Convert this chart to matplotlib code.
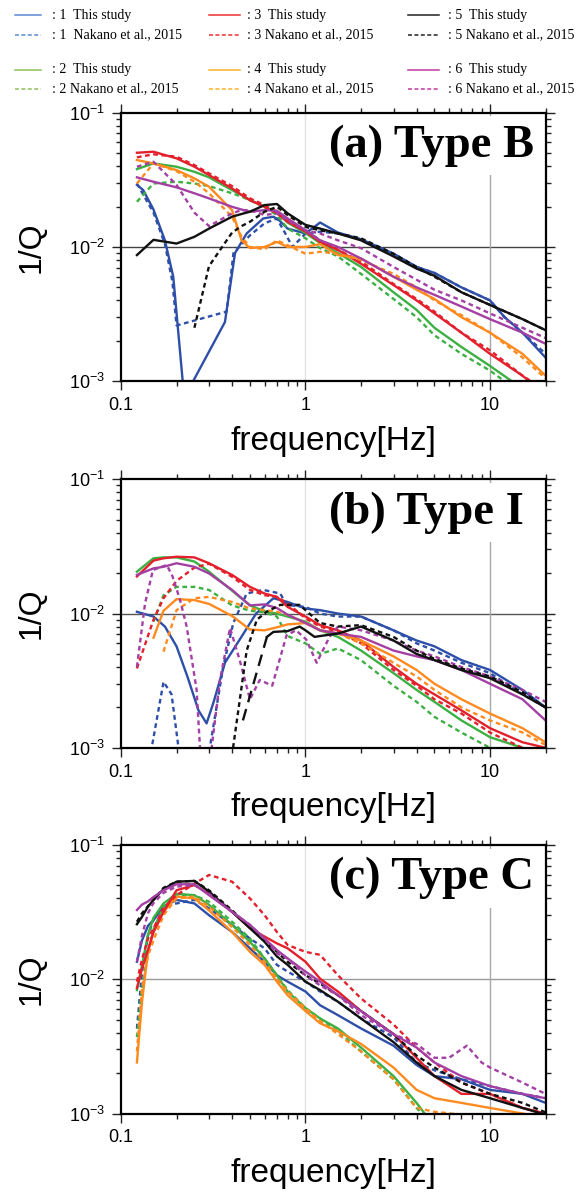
import numpy as np
import matplotlib
matplotlib.use('Agg')
import matplotlib.pyplot as plt
from matplotlib.lines import Line2D
from matplotlib.ticker import LogLocator, NullFormatter, FixedFormatter, FixedLocator

plt.rcParams['font.family'] = ['Liberation Sans', 'DejaVu Sans']
plt.rcParams['mathtext.fontset'] = 'custom'
plt.rcParams['mathtext.rm'] = 'Liberation Sans'

nan = float('nan')

# ---------------- panel (a) Type B ----------------
fa = [0.122, 0.15, 0.2, 0.25, 0.3, 0.4, 0.45, 0.5, 0.6, 0.7, 0.8, 1.0, 1.2, 1.5, 2, 3, 4, 5, 7, 10, 15, 20]
a2_this = [0.038, 0.0419, 0.0396, 0.0363, 0.033, 0.0265, 0.0244, 0.0223, 0.0201, 0.018, 0.0152, 0.0127, 0.0107, 0.009, 0.0071, 0.0046, 0.0034, 0.0025, 0.0018, 0.0013, 0.00088, 0.0007]
a2_nak = [0.0217, 0.0297, 0.0306, 0.0297, 0.0284, 0.0251, 0.0237, 0.0223, 0.0197, 0.0173, 0.0137, 0.0116, 0.0098, 0.0085, 0.0063, 0.0041, 0.0030, 0.0022, 0.0016, 0.0012, 0.0008, 0.0006]
a3_this = [0.0503, 0.0512, 0.0457, 0.0396, 0.0343, 0.0273, 0.0244, 0.0223, 0.0199, 0.0178, 0.0154, 0.013, 0.0109, 0.0095, 0.0075, 0.0052, 0.004, 0.0032, 0.0023, 0.0016, 0.0011, 0.0008]
a3_nak = [0.0465, 0.049, 0.047, 0.0407, 0.0353, 0.0284, 0.0254, 0.023, 0.0205, 0.0183, 0.016, 0.0133, 0.0112, 0.0095, 0.0078, 0.0053, 0.0041, 0.0033, 0.0023, 0.0017, 0.0011, 0.00085]
a4_this = [0.0444, 0.0419, 0.0374, 0.0324, 0.0281, 0.0188, 0.0112, 0.0098, 0.01, 0.0109, 0.01, 0.01, 0.0105, 0.0087, 0.0082, 0.006, 0.0048, 0.0041, 0.003, 0.0023, 0.0016, 0.0011]
a4_nak = [0.0297, 0.0419, 0.0367, 0.0306, 0.0251, 0.0168, 0.0119, 0.01, 0.0096, 0.0112, 0.0103, 0.0089, 0.0092, 0.0089, 0.008, 0.0063, 0.005, 0.004, 0.0031, 0.0023, 0.0015, 0.00105]
a5_this = [0.0087, 0.0113, 0.0106, 0.0119, 0.0137, 0.0168, 0.0176, 0.0183, 0.0205, 0.0209, 0.0178, 0.0146, 0.0137, 0.0126, 0.0112, 0.0085, 0.0069, 0.0061, 0.0046, 0.0037, 0.0029, 0.0024]
a5_nak = [nan, nan, nan, 0.0025, 0.0072, 0.0128, 0.0143, 0.0154, 0.0183, 0.0199, 0.0173, 0.0141, 0.0133, 0.0126, 0.0116, 0.0089, 0.0071, 0.006, 0.0046, 0.0037, 0.0029, 0.0024]
a6_this = [0.033, 0.0306, 0.0278, 0.0251, 0.023, 0.0199, 0.019, 0.0183, 0.0188, 0.0186, 0.0163, 0.0133, 0.0112, 0.01, 0.0082, 0.006, 0.005, 0.0044, 0.0036, 0.0029, 0.0023, 0.0019]
a6_nak = [0.0396, 0.0431, 0.029, 0.018, 0.0143, 0.0178, 0.0188, 0.0188, 0.0173, 0.0178, 0.0158, 0.0133, 0.0126, 0.0112, 0.0098, 0.0071, 0.0057, 0.0048, 0.004, 0.0032, 0.0025, 0.0021]
a1_this_f = [0.122, 0.132, 0.15, 0.173, 0.192, 0.216, 0.23, 0.246, 0.366, 0.415, 0.48, 0.59, 0.67, 0.72, 0.8, 1.0, 1.2, 1.5, 2, 3, 4, 5, 7, 10, 12, 15, 20]
a1_this = [0.029, 0.0265, 0.019, 0.0112, 0.006, 0.001, 0.0006, 0.001, 0.00276, 0.009, 0.0126, 0.0163, 0.0168, 0.0158, 0.0137, 0.0126, 0.0152, 0.0128, 0.0114, 0.0089, 0.0071, 0.0064, 0.005, 0.004, 0.003, 0.0023, 0.0015]
a1_nak_f = [0.122, 0.15, 0.173, 0.19, 0.2, 0.374, 0.407, 0.5, 0.6, 0.7, 0.78, 0.85, 1.0, 1.2, 1.5, 2, 3, 4, 5, 7, 10, 12, 15, 20]
a1_nak = [0.0297, 0.018, 0.0105, 0.0055, 0.0026, 0.0033, 0.009, 0.0122, 0.015, 0.0163, 0.0125, 0.01, 0.0126, 0.013, 0.0126, 0.0114, 0.0089, 0.0071, 0.0064, 0.005, 0.004, 0.003, 0.0023, 0.0016]

# ---------------- panel (b) Type I ----------------
fb = [0.122, 0.15, 0.17, 0.2, 0.25, 0.3, 0.4, 0.5, 0.6, 0.7, 0.8, 1.0, 1.2, 1.5, 2, 3, 4, 5, 7, 10, 15, 20]
b2_this = [0.0205, 0.0258, 0.0262, 0.0262, 0.0244, 0.0205, 0.0148, 0.0115, 0.0104, 0.01, 0.0095, 0.0087, 0.0075, 0.0067, 0.0053, 0.0036, 0.0027, 0.0022, 0.0016, 0.0012, 0.001, 0.0009]
b2_nak = [nan, 0.0087, 0.0137, 0.0158, 0.0158, 0.015, 0.0115, 0.0105, 0.0102, 0.0095, 0.0068, 0.006, 0.005, 0.0055, 0.0045, 0.0029, 0.0022, 0.0017, 0.0013, 0.001, 0.0008, 0.0007]
b3_this = [0.0189, 0.0248, 0.0258, 0.0265, 0.0262, 0.0237, 0.0194, 0.0158, 0.0141, 0.0133, 0.0112, 0.0095, 0.0082, 0.0075, 0.0063, 0.004, 0.003, 0.0025, 0.0019, 0.0014, 0.0011, 0.001]
b3_nak = [0.0039, 0.009, 0.013, 0.0175, 0.022, 0.0235, 0.0188, 0.015, 0.0137, 0.0133, 0.0119, 0.0092, 0.008, 0.0073, 0.006, 0.0038, 0.0029, 0.0023, 0.0018, 0.0013, 0.001, 0.0009]
b4_this = [nan, 0.0066, 0.0105, 0.0128, 0.0126, 0.0118, 0.0096, 0.0076, 0.0075, 0.0079, 0.0083, 0.0085, 0.0075, 0.0071, 0.0063, 0.0048, 0.0038, 0.003, 0.0023, 0.0018, 0.0014, 0.0011]
b4_nak = [nan, nan, 0.0052, 0.0106, 0.013, 0.0133, 0.0122, 0.0109, 0.0106, 0.0103, 0.0098, 0.0085, 0.0075, 0.0071, 0.006, 0.0043, 0.0034, 0.0027, 0.002, 0.0016, 0.0013, 0.00105]
b6_this = [0.0194, 0.0217, 0.0223, 0.0237, 0.0223, 0.0199, 0.015, 0.0115, 0.0117, 0.011, 0.0098, 0.0085, 0.0075, 0.0071, 0.0067, 0.0053, 0.0048, 0.0045, 0.0038, 0.003, 0.0023, 0.0016]
b6_nak_f = [0.122, 0.135, 0.149, 0.177, 0.19, 0.209, 0.227, 0.257, 0.268, 0.29, 0.31, 0.344, 0.39, 0.44, 0.5, 0.565, 0.66, 0.79, 0.89, 1.01, 1.15, 1.35, 1.5, 2, 3, 4, 5, 7, 10, 15, 20]
b6_nak = [0.004, 0.0119, 0.0211, 0.023, 0.019, 0.0126, 0.008, 0.0027, 0.001, 0.0005, 0.001, 0.0032, 0.0078, 0.0045, 0.0023, 0.0032, 0.0029, 0.0069, 0.0075, 0.0064, 0.0043, 0.0067, 0.008, 0.0075, 0.0063, 0.0053, 0.0048, 0.004, 0.0034, 0.0027, 0.0022]
b1_this_f = [0.122, 0.15, 0.173, 0.2, 0.229, 0.263, 0.291, 0.318, 0.366, 0.44, 0.54, 0.67, 0.8, 1.0, 1.2, 1.5, 2, 3, 4, 5, 7, 10, 15, 20]
b1_this = [0.0103, 0.0095, 0.008, 0.0057, 0.0034, 0.0019, 0.00152, 0.0022, 0.0043, 0.0064, 0.01, 0.013, 0.0122, 0.0109, 0.0106, 0.01, 0.0095, 0.0075, 0.0063, 0.0057, 0.0045, 0.0038, 0.0027, 0.002]
b1_nak_f = [0.14, 0.17, 0.188, 0.205, 0.25, 0.303, 0.358, 0.406, 0.48, 0.59, 0.73, 0.79, 1.0, 1.2, 1.5, 2, 3, 4, 5, 7, 10, 15, 20]
b1_nak = [0.0007, 0.0031, 0.0025, 0.001, 0.0005, 0.001, 0.004, 0.0085, 0.0141, 0.015, 0.0141, 0.0116, 0.0112, 0.01, 0.0095, 0.0095, 0.0075, 0.006, 0.0053, 0.0043, 0.0036, 0.0025, 0.002]
b5_this_f = [0.458, 0.618, 0.67, 0.8, 0.93, 1.0, 1.12, 1.2, 1.5, 2, 3, 4, 5, 7, 10, 15, 20]
b5_this = [0.0016, 0.0067, 0.0073, 0.0074, 0.008, 0.0075, 0.0067, 0.0068, 0.0071, 0.008, 0.0063, 0.005, 0.0045, 0.0038, 0.0033, 0.0025, 0.002]
b5_nak_f = [0.405, 0.48, 0.545, 0.616, 0.73, 0.93, 1.0, 1.2, 1.5, 2, 3, 4, 5, 7, 10, 15, 20]
b5_nak = [0.001, 0.0053, 0.009, 0.0103, 0.0116, 0.0116, 0.0106, 0.0085, 0.008, 0.0082, 0.0067, 0.0053, 0.0046, 0.0039, 0.0034, 0.0026, 0.002]

# ---------------- panel (c) Type C ----------------
fc = [0.122, 0.13, 0.14, 0.15, 0.17, 0.2, 0.25, 0.3, 0.4, 0.5, 0.6, 0.7, 0.8, 1.0, 1.2, 1.5, 2, 3, 4, 5, 7, 10, 15, 20]
c1_this = [0.0135, 0.0195, 0.025, 0.0276, 0.0347, 0.039, 0.0367, 0.03, 0.0225, 0.017, 0.0135, 0.0107, 0.0096, 0.0081, 0.0064, 0.0054, 0.0043, 0.0032, 0.0023, 0.0019, 0.0018, 0.0015, 0.0014, 0.0012]
c1_nak = [0.0043, 0.0113, 0.0211, 0.0278, 0.0363, 0.0367, 0.039, 0.0337, 0.0254, 0.0201, 0.017, 0.0128, 0.0114, 0.0096, 0.0081, 0.0068, 0.0051, 0.0037, 0.0024, 0.0021, 0.0018, 0.0016, 0.0014, 0.0013]
c2_this = [0.0083, 0.0127, 0.0215, 0.0287, 0.0367, 0.0433, 0.0423, 0.0358, 0.0254, 0.019, 0.0143, 0.0107, 0.0081, 0.0061, 0.0051, 0.0043, 0.0031, 0.0019, 0.0012, 0.0008, nan, nan, nan, nan]
c2_nak = [0.0037, 0.0085, 0.016, 0.0235, 0.035, 0.0423, 0.0423, 0.0378, 0.0268, 0.0201, 0.0143, 0.0107, 0.0083, 0.0061, 0.0051, 0.0041, 0.0029, 0.0018, 0.0011, 0.0008, nan, nan, nan, nan]
c3_this = [0.0086, 0.012, 0.0165, 0.0225, 0.0318, 0.046, 0.0503, 0.0433, 0.0318, 0.024, 0.0208, 0.0185, 0.017, 0.0135, 0.0101, 0.0081, 0.0058, 0.0039, 0.0026, 0.0019, 0.0014, 0.0014, 0.0011, 0.001]
c3_nak = [0.0096, 0.0141, 0.02, 0.024, 0.034, 0.0423, 0.0515, 0.0598, 0.0533, 0.04, 0.03, 0.0225, 0.018, 0.016, 0.0152, 0.0107, 0.0072, 0.0046, 0.0031, 0.0024, 0.0017, 0.0014, 0.0011, 0.001]
c4_this = [0.0024, 0.0068, 0.016, 0.0225, 0.0318, 0.0413, 0.04, 0.0326, 0.0225, 0.016, 0.0128, 0.0096, 0.0076, 0.0058, 0.0047, 0.0041, 0.0033, 0.0022, 0.0015, 0.0013, 0.0012, 0.0011, 0.001, 0.00093]
c4_nak = [0.0029, 0.0085, 0.015, 0.0195, 0.03, 0.04, 0.0413, 0.0347, 0.0245, 0.018, 0.0135, 0.0101, 0.0081, 0.0061, 0.0049, 0.0039, 0.0029, 0.0018, 0.0011, 0.00103, 0.00098, 0.0009, nan, nan]
c5_this = [0.0257, 0.0292, 0.0347, 0.039, 0.047, 0.0533, 0.054, 0.045, 0.0318, 0.024, 0.019, 0.0148, 0.0128, 0.0096, 0.0083, 0.0068, 0.0051, 0.0034, 0.0024, 0.0019, 0.0015, 0.0013, 0.0011, 0.00098]
c5_nak = [0.0268, 0.031, 0.035, 0.039, 0.048, 0.0533, 0.054, 0.046, 0.0326, 0.0245, 0.0195, 0.016, 0.0135, 0.0107, 0.0093, 0.0076, 0.0058, 0.0039, 0.0027, 0.0022, 0.0017, 0.0014, 0.0012, 0.00102]
c6_this = [0.0328, 0.036, 0.038, 0.041, 0.046, 0.051, 0.051, 0.0423, 0.0318, 0.0254, 0.0201, 0.0165, 0.0143, 0.0114, 0.0096, 0.0076, 0.0058, 0.0039, 0.0031, 0.0024, 0.0019, 0.0016, 0.0014, 0.0013]
c6_nak_f = [0.122, 0.13, 0.14, 0.15, 0.17, 0.2, 0.25, 0.3, 0.4, 0.5, 0.6, 0.7, 0.8, 1.0, 1.2, 1.5, 2, 3, 4, 5, 6, 7.5, 9, 10, 15, 20]
c6_nak = [0.0135, 0.0212, 0.031, 0.037, 0.044, 0.049, 0.0503, 0.0433, 0.0318, 0.0254, 0.0201, 0.0156, 0.0143, 0.0107, 0.009, 0.0076, 0.0054, 0.0039, 0.0033, 0.0026, 0.0026, 0.0032, 0.0024, 0.0022, 0.0017, 0.0014]

# colours (curves / legend)
line_colors = ['#2e4fa8', '#3cb043', '#e3202b', '#ff8a1f', '#111111', '#a43fa4']
legend_colors = ['#5a8ad2', '#8ebf55', '#ee2f2f', '#f8b12a', '#222222', '#c2389e']
DASH = (0, (2.0, 1.5))
LW = 1.7

W, H = 586, 1197
fig = plt.figure(figsize=(W / 100, H / 100), dpi=100)


def new_axes(top_px):
    left, right, bottom = 121, 545.5, top_px + 268.5
    return fig.add_axes([left / W, 1 - bottom / H, (right - left) / W, 268.5 / H])


def curve(ax, f, q, st, dashed):
    ax.plot(f, q, color=line_colors[st - 1], lw=LW,
            ls=DASH if dashed else '-', zorder=2, solid_joinstyle='round')


def style(ax, title, hcol):
    ax.set_xscale('log')
    ax.set_yscale('log')
    ax.set_xlim(0.1, 20)
    ax.set_ylim(1e-3, 1e-1)
    ax.xaxis.set_major_locator(FixedLocator([0.1, 1, 10]))
    ax.xaxis.set_major_formatter(FixedFormatter(['0.1', '1', '10']))
    ax.xaxis.set_minor_locator(LogLocator(base=10, subs=np.arange(2, 10)))
    ax.xaxis.set_minor_formatter(NullFormatter())
    ax.yaxis.set_major_locator(FixedLocator([1e-3, 1e-2, 1e-1]))
    ax.yaxis.set_minor_locator(LogLocator(base=10, subs=np.arange(2, 10)))
    ax.yaxis.set_minor_formatter(NullFormatter())
    ax.tick_params(which='both', direction='out', top=True, right=True,
                   width=1.0, labelsize=13, pad=5, color='#222222')
    ax.tick_params(which='major', length=6.5)
    ax.tick_params(which='minor', length=3.5)
    for s in ax.spines.values():
        s.set_linewidth(1.6)
    ax.axhline(1e-2, color=hcol, lw=1.0, zorder=1)
    ax.axvline(1, color='#e2e2e2', lw=1.0, zorder=1)
    ax.axvline(10, color='#a8a8a8', lw=1.0, zorder=1)
    ax.set_xlabel('frequency[Hz]', fontsize=24)
    ax.set_ylabel('1/Q', fontsize=23)
    ax.xaxis.set_label_coords(0.5, -0.165)
    ax.yaxis.set_label_coords(-0.175, 0.5)
    ax.text(0.49, 0.835, title, transform=ax.transAxes, ha='left', va='baseline',
            fontsize=33.5, fontweight='bold', family='Liberation Serif', zorder=2.4,
            bbox=dict(facecolor='white', edgecolor='none', pad=6))


# panel (a)
ax = new_axes(112.7)
curve(ax, a1_this_f, a1_this, 1, False)
curve(ax, a1_nak_f, a1_nak, 1, True)
curve(ax, fa, a2_this, 2, False)
curve(ax, fa, a2_nak, 2, True)
curve(ax, fa, a3_this, 3, False)
curve(ax, fa, a3_nak, 3, True)
curve(ax, fa, a4_this, 4, False)
curve(ax, fa, a4_nak, 4, True)
curve(ax, fa, a6_this, 6, False)
curve(ax, fa, a6_nak, 6, True)
curve(ax, fa, a5_this, 5, False)
curve(ax, fa, a5_nak, 5, True)
style(ax, '(a) Type B', '#444444')

# panel (b)
ax = new_axes(479.3)
curve(ax, b1_this_f, b1_this, 1, False)
curve(ax, b1_nak_f, b1_nak, 1, True)
curve(ax, fb, b2_this, 2, False)
curve(ax, fb, b2_nak, 2, True)
curve(ax, fb, b3_this, 3, False)
curve(ax, fb, b3_nak, 3, True)
curve(ax, fb, b4_this, 4, False)
curve(ax, fb, b4_nak, 4, True)
curve(ax, fb, b6_this, 6, False)
curve(ax, b6_nak_f, b6_nak, 6, True)
# first part of the station-5 curve is drawn broken in the original
ax.plot(b5_this_f[:2], b5_this[:2], color=line_colors[4], lw=LW, ls=(0, (5, 3)), zorder=2)
curve(ax, b5_this_f[1:], b5_this[1:], 5, False)
curve(ax, b5_nak_f, b5_nak, 5, True)
style(ax, '(b) Type I', '#555555')

# panel (c)
ax = new_axes(845)
curve(ax, fc, c1_this, 1, False)
curve(ax, fc, c1_nak, 1, True)
curve(ax, fc, c2_this, 2, False)
curve(ax, fc, c2_nak, 2, True)
curve(ax, fc, c4_this, 4, False)
curve(ax, fc, c4_nak, 4, True)
curve(ax, fc, c3_this, 3, False)
curve(ax, fc, c3_nak, 3, True)
curve(ax, fc, c5_this, 5, False)
curve(ax, fc, c5_nak, 5, True)
curve(ax, fc, c6_this, 6, False)
curve(ax, c6_nak_f, c6_nak, 6, True)
style(ax, '(c) Type C', '#999999')

# legend block on top (drawn by hand, like the original)
col_x = [(15, 41, 52), (209, 240, 247), (408, 439, 448)]
row_y = [(15, 35), (70, 89)]
stations = [[1, 2], [3, 4], [5, 6]]
for ci, (x0, x1, xt) in enumerate(col_x):
    for ri, (y_this, y_nak) in enumerate(row_y):
        st = stations[ci][ri]
        c = legend_colors[st - 1]
        for y, dashed in ((y_this, False), (y_nak, True)):
            fig.add_artist(Line2D([x0 / W, x1 / W], [1 - y / H, 1 - y / H],
                                  transform=fig.transFigure, color=c, lw=1.1,
                                  ls=(0, (2.6, 1.6)) if dashed else '-'))
        gap = '  ' if st == 1 else ' '
        fig.text(xt / W, 1 - y_this / H, ': %d  This study' % st, fontsize=10,
                 family='Liberation Serif', va='center', ha='left')
        fig.text(xt / W, 1 - y_nak / H, ': %d%sNakano et al., 2015' % (st, gap),
                 fontsize=10, family='Liberation Serif', va='center', ha='left')

fig.savefig('out.png', dpi=100)
